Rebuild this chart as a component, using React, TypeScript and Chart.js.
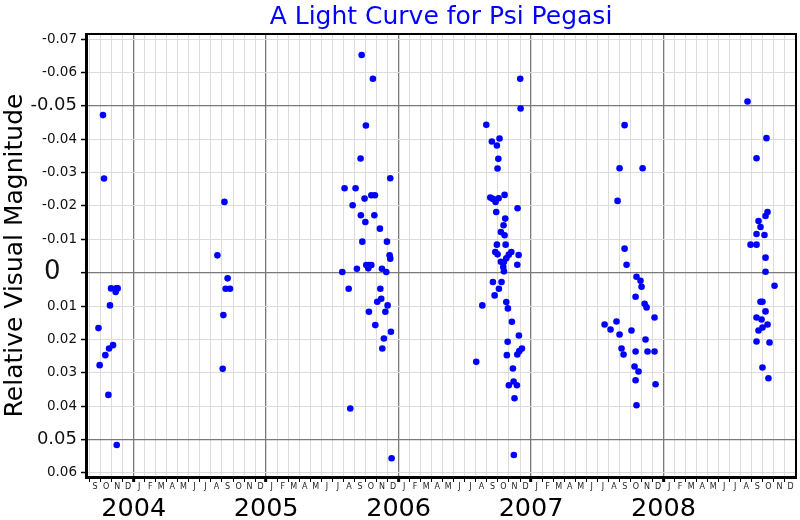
import React, { useEffect, useRef } from 'react';
import { Chart, registerables } from 'chart.js';

Chart.register(...registerables);

const chartTitle = 'A Light Curve for Psi Pegasi';
const yAxisTitle = 'Relative Visual Magnitude';

const monthLetters = ['J', 'F', 'M', 'A', 'M', 'J', 'J', 'A', 'S', 'O', 'N', 'D'];
const yearValues = [2004, 2005, 2006, 2007, 2008];
const yearLabels = ['2004', '2005', '2006', '2007', '2008'];
const yTickValues = [-0.07, -0.06, -0.05, -0.04, -0.03, -0.02, -0.01, 0, 0.01, 0.02, 0.03, 0.04, 0.05, 0.06];
const yTickLabels = ['-0.07', '-0.06', '-0.05', '-0.04', '-0.03', '-0.02', '-0.01', '0', '0.01', '0.02', '0.03', '0.04', '0.05', '0.06'];
const majorYTicks = [-0.05, 0, 0.05];

const xStart = 2003.64;
const xEnd = 2009.0;
const yTop = -0.0715;
const yBottom = 0.0612;
const firstYear = 2003;
const firstMonth = 8; // September (0-based)
const lastYear = 2008;

// [decimal year, relative magnitude]
const season2003 = [
  [2003.768, -0.0472], [2003.776, -0.0282], [2003.829, 0.0047], [2003.869, 0.0047],
  [2003.864, 0.0058], [2003.879, 0.0047], [2003.821, 0.0098], [2003.734, 0.0166],
  [2003.844, 0.0217], [2003.814, 0.0227], [2003.786, 0.0247], [2003.743, 0.0277],
  [2003.809, 0.0366], [2003.872, 0.0516],
];
const season2004 = [
  [2004.685, -0.0212], [2004.632, -0.0052], [2004.709, 0.0017], [2004.694, 0.0048],
  [2004.727, 0.0048], [2004.677, 0.0127], [2004.672, 0.0288],
];
const season2005 = [
  [2005.721, -0.0652], [2005.806, -0.0581], [2005.753, -0.0441], [2005.713, -0.0342],
  [2005.937, -0.0283], [2005.592, -0.0253], [2005.675, -0.0253], [2005.794, -0.0232],
  [2005.821, -0.0232], [2005.743, -0.0222], [2005.653, -0.0202], [2005.715, -0.0172],
  [2005.817, -0.0172], [2005.749, -0.0152], [2005.859, -0.0132], [2005.726, -0.0093],
  [2005.912, -0.0093], [2005.932, -0.0052], [2005.937, -0.0042], [2005.756, -0.0023],
  [2005.776, -0.0023], [2005.794, -0.0023], [2005.771, -0.0013], [2005.685, -0.0012],
  [2005.874, -0.0012], [2005.907, -0.0002], [2005.575, -0.0002], [2005.623, 0.0048],
  [2005.862, 0.0048], [2005.869, 0.0078], [2005.839, 0.0087], [2005.917, 0.0098],
  [2005.776, 0.0117], [2005.900, 0.0117], [2005.824, 0.0157], [2005.942, 0.0177],
  [2005.889, 0.0197], [2005.877, 0.0227], [2005.635, 0.0407], [2005.947, 0.0556],
];
const season2006 = [
  [2006.918, -0.0581], [2006.921, -0.0492], [2006.662, -0.0443], [2006.704, -0.0393],
  [2006.762, -0.0402], [2006.742, -0.0381], [2006.753, -0.0341], [2006.747, -0.0312],
  [2006.692, -0.0225], [2006.712, -0.0221], [2006.755, -0.0223], [2006.800, -0.0233],
  [2006.732, -0.0212], [2006.898, -0.0193], [2006.737, -0.0182], [2006.805, -0.0162],
  [2006.792, -0.0142], [2006.772, -0.0122], [2006.800, -0.0112], [2006.742, -0.0084],
  [2006.808, -0.0084], [2006.730, -0.0062], [2006.747, -0.0055], [2006.851, -0.0062],
  [2006.832, -0.0054], [2006.906, -0.0053], [2006.813, -0.0043], [2006.772, -0.0033],
  [2006.795, -0.0032], [2006.896, -0.0024], [2006.790, -0.0017], [2006.795, -0.0004],
  [2006.712, 0.0028], [2006.777, 0.0028], [2006.757, 0.0048], [2006.725, 0.0068],
  [2006.632, 0.0098], [2006.813, 0.0088], [2006.825, 0.0107], [2006.855, 0.0147],
  [2006.908, 0.0188], [2006.823, 0.0207], [2006.931, 0.0227], [2006.911, 0.0235],
  [2006.896, 0.0245], [2006.817, 0.0247], [2006.586, 0.0267], [2006.863, 0.0287],
  [2006.868, 0.0326], [2006.832, 0.0337], [2006.893, 0.0337], [2006.875, 0.0376],
  [2006.870, 0.0546],
];
const season2007 = [
  [2007.706, -0.0442], [2007.668, -0.0313], [2007.842, -0.0313], [2007.653, -0.0215],
  [2007.706, -0.0072], [2007.721, -0.0024], [2007.796, 0.0012], [2007.826, 0.0024],
  [2007.834, 0.0042], [2007.789, 0.0072], [2007.857, 0.0093], [2007.872, 0.0104],
  [2007.932, 0.0134], [2007.555, 0.0155], [2007.645, 0.0146], [2007.600, 0.0170],
  [2007.668, 0.0185], [2007.758, 0.0173], [2007.864, 0.0200], [2007.683, 0.0227],
  [2007.698, 0.0245], [2007.789, 0.0236], [2007.879, 0.0236], [2007.932, 0.0236],
  [2007.781, 0.0281], [2007.811, 0.0296], [2007.789, 0.0322], [2007.940, 0.0334],
  [2007.796, 0.0397],
];
const season2008 = [
  [2008.634, -0.0513], [2008.702, -0.0343], [2008.777, -0.0403], [2008.785, -0.0182],
  [2008.770, -0.0170], [2008.717, -0.0155], [2008.732, -0.0137], [2008.702, -0.0116],
  [2008.762, -0.0113], [2008.657, -0.0084], [2008.702, -0.0084], [2008.770, -0.0045],
  [2008.770, -0.0003], [2008.838, 0.0039], [2008.732, 0.0087], [2008.747, 0.0087],
  [2008.702, 0.0134], [2008.770, 0.0116], [2008.740, 0.0140], [2008.717, 0.0173],
  [2008.747, 0.0164], [2008.785, 0.0155], [2008.702, 0.0206], [2008.800, 0.0209],
  [2008.747, 0.0284], [2008.792, 0.0316],
];

const seasons = [season2003, season2004, season2005, season2006, season2007, season2008];

const family = "'DejaVu Sans', sans-serif";

export default function App() {
  const ref = useRef<HTMLCanvasElement>(null);

  useEffect(() => {
    const monthBoundaries: number[] = [];
    const monthCenters: number[] = [];
    const monthCenterLabels: string[] = [];
    for (let y = firstYear; y <= lastYear; y++) {
      for (let m = 0; m < 12; m++) {
        if (y === firstYear && m < firstMonth) continue;
        monthBoundaries.push(y + m / 12);
        monthCenters.push(y + (m + 0.5) / 12);
        monthCenterLabels.push(monthLetters[m]);
      }
    }
    const isYear = (v: number) => Math.abs(v - Math.round(v)) < 1e-6;
    const isMajorY = (v: number) => majorYTicks.some((m) => Math.abs(m - v) < 1e-9);
    const ySize = (v: number) => (Math.abs(v) < 1e-9 ? 26 : isMajorY(v) ? 18 : 13.5);

    const chart = new Chart(ref.current as HTMLCanvasElement, {
      type: 'scatter',
      data: {
        datasets: seasons.map((s, i) => ({
          label: 'season ' + i,
          data: s.map(([t, m]) => ({ x: t, y: m })),
          backgroundColor: '#0000ff',
          borderColor: '#0000ff',
          borderWidth: 0,
          pointRadius: 3.3,
          xAxisID: 'x',
          yAxisID: 'y',
        })),
      },
      options: {
        responsive: false,
        animation: false,
        layout: { padding: { left: 0, right: 3, top: 0, bottom: 0 } },
        plugins: {
          legend: { display: false },
          tooltip: { enabled: false },
          title: {
            display: true,
            text: chartTitle,
            color: '#0000ff',
            fullSize: false,
            font: { family, size: 25, weight: 'normal' },
            padding: { top: 2, bottom: 2 },
          },
        },
        scales: {
          x: {
            type: 'linear',
            position: 'bottom',
            weight: 0,
            min: xStart,
            max: xEnd,
            afterBuildTicks: (s: any) => { s.ticks = monthBoundaries.map((v) => ({ value: v })); },
            afterFit: (s: any) => { s.height = 5; },
            ticks: { display: false, autoSkip: false },
            grid: {
              color: (c: any) => (c.tick && isYear(c.tick.value) ? '#7a7a7a' : '#dcdcdc'),
              lineWidth: (c: any) => (c.tick && isYear(c.tick.value) ? 1.3 : 1),
              tickColor: '#000',
              tickWidth: (c: any) => (c.tick && isYear(c.tick.value) ? 3 : 1),
              tickLength: 5,
            },
            border: { color: '#000', width: 3 },
          },
          xm: {
            type: 'linear',
            position: 'bottom',
            weight: 1,
            min: xStart,
            max: xEnd,
            afterBuildTicks: (s: any) => { s.ticks = monthCenters.map((v) => ({ value: v })); },
            afterFit: (s: any) => { s.height = 12; },
            ticks: {
              autoSkip: false,
              maxRotation: 0,
              padding: 0,
              color: '#222',
              font: { family, size: 8 },
              callback: (_v: any, i: number) => monthCenterLabels[i],
            },
            grid: { display: false, drawTicks: false },
            border: { display: false },
          },
          xy: {
            type: 'linear',
            position: 'bottom',
            weight: 2,
            min: xStart,
            max: xEnd,
            afterBuildTicks: (s: any) => { s.ticks = yearValues.map((v) => ({ value: v })); },
            afterFit: (s: any) => { s.height = 26; },
            ticks: {
              autoSkip: false,
              maxRotation: 0,
              padding: 0,
              color: '#000',
              font: { family, size: 25.5 },
              callback: (_v: any, i: number) => yearLabels[i],
            },
            grid: { display: false, drawTicks: false },
            border: { display: false },
          },
          xt: {
            type: 'linear',
            position: 'top',
            min: xStart,
            max: xEnd,
            afterFit: (s: any) => { s.height = 0; },
            ticks: { display: false },
            grid: { display: false, drawTicks: false },
            border: { color: '#000', width: 2 },
          },
          y: {
            type: 'linear',
            position: 'left',
            min: yTop,
            max: yBottom,
            reverse: true,
            afterBuildTicks: (s: any) => { s.ticks = yTickValues.map((v) => ({ value: v })); },
            afterFit: (s: any) => { s.width = 86; },
            ticks: {
              autoSkip: false,
              padding: 4,
              color: '#111',
              font: (c: any) => ({ family, size: ySize(c.tick ? c.tick.value : 1) }),
              callback: (_v: any, i: number) => (yTickLabels[i] === '0' ? yTickLabels[i] + '  ' : yTickLabels[i]),
            },
            grid: {
              color: (c: any) => (c.tick && isMajorY(c.tick.value) ? '#7a7a7a' : '#dcdcdc'),
              lineWidth: (c: any) => (c.tick && isMajorY(c.tick.value) ? 1.3 : 1),
              tickColor: '#000',
              tickLength: 5,
              tickWidth: 1.5,
            },
            border: { color: '#000', width: 3 },
            title: {
              display: true,
              text: yAxisTitle,
              color: '#000',
              font: { family, size: 25 },
              padding: { top: 0, bottom: 0 },
            },
          },
          yr: {
            type: 'linear',
            position: 'right',
            min: yTop,
            max: yBottom,
            reverse: true,
            afterFit: (s: any) => { s.width = 0; },
            ticks: { display: false },
            grid: { display: false, drawTicks: false },
            border: { color: '#000', width: 2 },
          },
        },
      } as any,
    });
    return () => chart.destroy();
  }, []);

  return (
    <div style={{ position: 'fixed', left: 0, top: 0, width: 800, height: 520, background: '#fff' }}>
      <canvas ref={ref} width={800} height={520} style={{ display: 'block', width: 800, height: 520 }} />
    </div>
  );
}
